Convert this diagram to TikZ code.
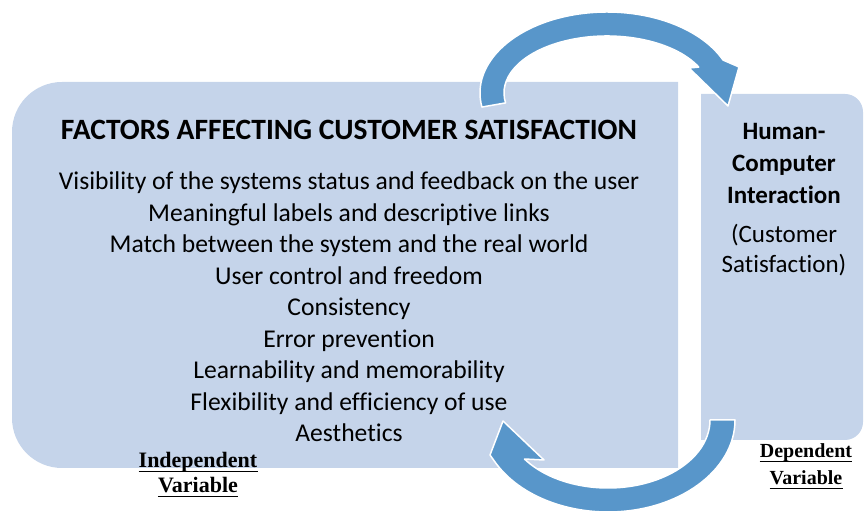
\documentclass[tikz,border=0pt]{standalone}
\usepackage{fontspec}
\setmainfont{Carlito}[Ligatures=NoCommon]
\newfontfamily\varfont{Liberation Serif}
\usetikzlibrary{calc}
\definecolor{boxblue}{RGB}{197,212,234}
\definecolor{arrowblue}{RGB}{88,150,202}

\begin{document}
\begin{tikzpicture}[x=1pt,y=1pt,
    panel/.style={fill=boxblue},
    looparrow/.style={fill=arrowblue,draw=white,line width=1.5pt,line join=round},
    factor/.style={anchor=base,font=\fontsize{25.6}{31}\selectfont},
    hci/.style={anchor=base,font=\fontsize{25}{30}\selectfont},
    varlabel/.style={anchor=base,inner sep=0pt,font=\varfont\bfseries\fontsize{20}{24}\selectfont}]
    \useasboundingbox (0,0) rectangle (864,513);

    % the two panels
    \fill[panel] (678,431) -- (62,431) arc[start angle=90,end angle=180,radius=50]
        -- (12,95) arc[start angle=180,end angle=270,radius=50] -- (678,45) -- cycle;
    \fill[panel] (701,419) -- (845,419) arc[start angle=90,end angle=0,radius=18]
        -- (863,91) arc[start angle=0,end angle=-90,radius=18] -- (701,73) -- cycle;

    % arrow over the top, left panel to right panel
    \coordinate (topc) at (607,420);
    \draw[looparrow] ($(topc)+(190:127 and 81)$)
        arc[start angle=190,end angle=24,x radius=127,y radius=81]
        -- (739,446) -- (728,407) -- (689,445)
        -- ($(topc)+(27:103 and 57)$)
        arc[start angle=27,end angle=190,x radius=103,y radius=57] -- cycle;

    % arrow underneath, right panel back to left panel
    \coordinate (botc) at (608,93);
    \draw[looparrow] ($(botc)+(0:127 and 92)$)
        arc[start angle=0,end angle=-152,x radius=127,y radius=92]
        -- (490,58) -- (503,92) -- (544,53)
        -- ($(botc)+(-145:102 and 68)$)
        arc[start angle=-145,end angle=0,x radius=102,y radius=68] -- cycle;

    \node[anchor=base,font=\bfseries\fontsize{29.5}{34}\selectfont] (title) at (349,373)
        {FACTORS AFFECTING CUSTOMER SATISFACTION};
    \foreach \txt [count=\i] in {Visibility of the systems status and feedback on the user,
        Meaningful labels and descriptive links,
        Match between the system and the real world,
        User control and freedom,
        Consistency,
        Error prevention,
        Learnability and memorability,
        Flexibility and efficiency of use,
        Aesthetics}
        \node[factor] (item\i) at (349,{323-31.5*(\i-1)}) {\txt};

    \node[hci,font=\bfseries\fontsize{25}{30}\selectfont] (hci1) at (784,373) {Human-};
    \node[hci,font=\bfseries\fontsize{25}{30}\selectfont] (hci2) at (784,341) {Computer};
    \node[hci,font=\bfseries\fontsize{25}{30}\selectfont] (hci3) at (784,309) {Interaction};
    \node[hci] (cs1) at (784,270) {(Customer};
    \node[hci] (cs2) at (784,240) {Satisfaction)};

    \node[varlabel,font=\varfont\bfseries\fontsize{22}{26}\selectfont] (indep1) at (198,45) {Independent};
    \node[varlabel,font=\varfont\bfseries\fontsize{22}{26}\selectfont] (indep2) at (198,20) {Variable};
    \node[varlabel] (dep1) at (806,55) {Dependent};
    \node[varlabel] (dep2) at (806,28) {Variable};
    \foreach \n in {indep1,indep2,dep1,dep2}
        \draw[line width=1.6] ([yshift=-3.5]\n.base west) -- ([yshift=-3.5]\n.base east);
\end{tikzpicture}
\end{document}
